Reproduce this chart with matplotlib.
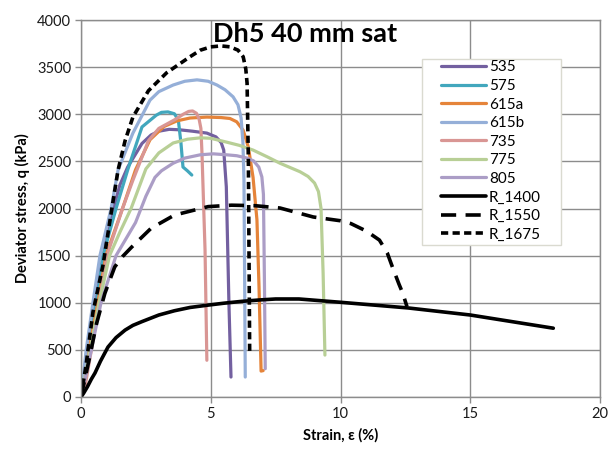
import matplotlib
matplotlib.use("Agg")
import matplotlib.pyplot as plt
from matplotlib.patches import Rectangle

plt.rcParams["font.family"] = ["Lato", "DejaVu Sans"]

# === Dados ===
series_names = ["535", "575", "615a", "615b", "735", "775", "805", "R_1400", "R_1550", "R_1675"]

strain_535 = [0, 0.2, 0.45, 0.75, 1.1, 1.5, 1.8, 2.35, 2.7, 3.0, 3.4, 3.8, 4.3, 4.85, 5.2, 5.4, 5.5, 5.6, 5.7, 5.78]
stress_535 = [0, 350, 850, 1350, 1850, 2250, 2440, 2690, 2780, 2820, 2840, 2835, 2820, 2800, 2760, 2700, 2620, 2230, 1000, 212]

strain_575 = [0, 0.27, 0.6, 0.85, 1.35, 1.8, 2.35, 2.9, 3.1, 3.35, 3.6, 3.75, 3.85, 3.93, 4.1, 4.27]
stress_575 = [0, 500, 1000, 1500, 2000, 2410, 2865, 2990, 3020, 3025, 3005, 2940, 2700, 2440, 2400, 2355]

strain_615a = [0, 0.3, 0.65, 0.96, 1.6, 2.1, 2.66, 3.2, 3.7, 4.2, 4.85, 5.4, 5.74, 6.0, 6.25, 6.45, 6.63, 6.78, 6.86, 6.94, 7.02]
stress_615a = [0, 500, 1000, 1500, 2000, 2410, 2730, 2870, 2930, 2960, 2970, 2965, 2955, 2920, 2830, 2650, 2330, 1880, 1170, 275, 280]

strain_615b = [0, 0.2, 0.46, 0.73, 1.16, 1.43, 2.0, 2.66, 3.0, 3.55, 4.0, 4.47, 4.9, 5.24, 5.55, 5.86, 6.05, 6.17, 6.24, 6.28, 6.3, 6.33]
stress_615b = [0, 500, 1000, 1500, 2000, 2410, 2800, 3150, 3240, 3310, 3350, 3365, 3350, 3310, 3260, 3185, 3100, 2960, 2700, 2300, 1500, 212]

strain_735 = [0, 0.15, 0.4, 0.7, 1.0, 1.6, 2.0, 2.6, 3.0, 3.6, 3.94, 4.15, 4.3, 4.45, 4.55, 4.62, 4.66, 4.78, 4.85]
stress_735 = [0, 100, 500, 1000, 1500, 2000, 2300, 2720, 2850, 2940, 3000, 3030, 3035, 3010, 2950, 2850, 2600, 1560, 390]

strain_775 = [0, 0.35, 0.7, 1.1, 1.5, 1.93, 2.5, 3.0, 3.55, 4.1, 4.6, 5.0, 5.6, 6.1, 6.63, 7.2, 7.67, 8.44, 8.75, 9.0, 9.15, 9.25, 9.33, 9.4]
stress_775 = [0, 500, 1000, 1500, 1750, 2000, 2420, 2590, 2695, 2735, 2750, 2745, 2705, 2670, 2620, 2545, 2480, 2390, 2340, 2270, 2180, 2000, 1315, 445]

strain_805 = [0, 0.4, 0.77, 1.35, 2.1, 2.5, 2.85, 3.1, 3.55, 4.0, 4.6, 5.1, 5.6, 6.0, 6.4, 6.65, 6.85, 6.97, 7.03, 7.07, 7.1]
stress_805 = [0, 500, 1000, 1500, 1850, 2130, 2330, 2400, 2480, 2535, 2570, 2580, 2570, 2560, 2535, 2505, 2440, 2335, 2150, 1200, 300]

strain_r1400 = [0, 0.1, 0.25, 0.4, 0.54, 0.75, 1.04, 1.35, 1.7, 2.0, 2.35, 3.0, 3.6, 4.2, 4.9, 5.5, 6.2, 6.9, 7.5, 8.4, 10, 12.6, 15, 18.2]
stress_r1400 = [0, 40, 110, 190, 255, 380, 530, 630, 710, 760, 800, 870, 915, 950, 975, 995, 1015, 1030, 1040, 1040, 1005, 945, 870, 730]

strain_r1550 = [0, 0.3, 0.6, 0.92, 1.3, 1.6, 1.95, 2.7, 3.6, 4.9, 5.8, 6.7, 7.67, 8.95, 10, 10.4, 11.0, 11.5, 11.8, 12.0, 12.25, 12.4, 12.56]
stress_r1550 = [0, 380, 780, 1100, 1380, 1490, 1590, 1790, 1930, 2020, 2035, 2030, 2005, 1910, 1870, 1840, 1760, 1665, 1530, 1380, 1200, 1100, 960]

strain_r1675 = [0, 0.2, 0.46, 0.85, 1.16, 1.43, 1.7, 2.0, 2.6, 3.3, 4.2, 4.6, 5.0, 5.4, 5.75, 6.05, 6.25, 6.35, 6.4, 6.45, 6.5]
stress_r1675 = [0, 350, 900, 1400, 1950, 2410, 2720, 2970, 3250, 3440, 3610, 3680, 3715, 3725, 3715, 3680, 3610, 3480, 3330, 2500, 470]

cores = ["#7360A0", "#42A7BD", "#E5843A", "#95AFD8", "#D99694", "#B8CF96", "#AB9DC6"]

# === Figura ===
fig = plt.figure(figsize=(6.08, 4.53), dpi=100)
ax = fig.add_axes([81 / 608, 1 - 397 / 453, 519 / 608, 377 / 453])

dados = [
    (strain_535, stress_535), (strain_575, stress_575), (strain_615a, stress_615a),
    (strain_615b, stress_615b), (strain_735, stress_735), (strain_775, stress_775),
    (strain_805, stress_805),
]
for (x, y), cor, nome in zip(dados, cores, series_names):
    ax.plot(x, y, color=cor, lw=2.3, label=nome, solid_joinstyle="round", solid_capstyle="round")

ax.plot(strain_r1400, stress_r1400, color="black", lw=2.6, label="R_1400",
        solid_joinstyle="round", solid_capstyle="round")
ax.plot(strain_r1550, stress_r1550, color="black", lw=2.6, label="R_1550", dashes=(4.2, 2.6))
ax.plot(strain_r1675, stress_r1675, color="black", lw=2.6, label="R_1675", dashes=(2.0, 1.2))

ax.set_xlim(0, 20)
ax.set_ylim(0, 4000)
ax.set_xticks(range(0, 21, 5))
ax.set_yticks(range(0, 4001, 500))
ax.grid(True, color="#8C8C8C", lw=1.0)
ax.set_axisbelow(True)
for s in ax.spines.values():
    s.set_color("#8C8C8C")
    s.set_linewidth(1.0)
ax.tick_params(length=4, width=1, color="#8C8C8C", labelsize=10.5, labelcolor="#1A1A1A", pad=3)

ax.set_xlabel("Strain, ε (%)", fontsize=10.5, fontweight="bold", labelpad=5)
ax.set_ylabel("Deviator stress, q (kPa)", fontsize=10.5, fontweight="bold", labelpad=5)

fig.text(213 / 608, 1 - 34 / 453, "Dh5 40 mm sat", fontsize=19.5, fontweight="bold",
         ha="left", va="center")

# caixa da legenda desenhada à parte (mais larga que a do matplotlib)
caixa = Rectangle((0.657, 0.403), 0.268, 0.494, transform=ax.transAxes,
                  facecolor="white", edgecolor="#DADAD0", lw=1.0, zorder=4)
ax.add_patch(caixa)

leg = ax.legend(loc="upper left", bbox_to_anchor=(0.693, 0.893), fontsize=11,
                frameon=False, borderaxespad=0, borderpad=0,
                labelspacing=0.3, handlelength=2.95, handletextpad=0.2)
leg.set_zorder(5)

fig.savefig("out.png", dpi=100)
